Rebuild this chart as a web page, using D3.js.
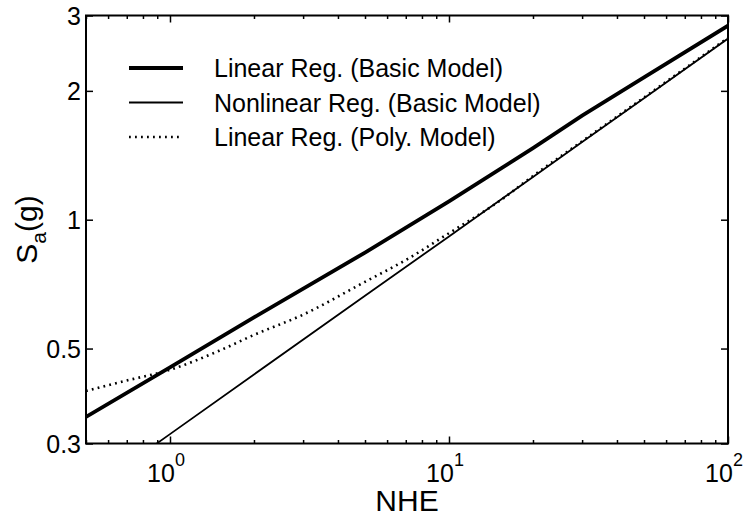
<!DOCTYPE html>
<html>
<head>
<meta charset="utf-8">
<script src="https://cdn.jsdelivr.net/npm/d3@7"></script>
<style>
  html, body { margin: 0; padding: 0; background: #fff; }
  svg { display: block; font-family: "Liberation Sans", Arial, Helvetica, sans-serif; }
</style>
</head>
<body>
<svg id="chart" width="747" height="519"></svg>
<script>
// Spectral acceleration Sa (g) versus number of hazard exceedances (NHE)
const nhe = [0.5, 1, 2, 5, 10, 20, 30, 50, 100];
const linearBasic = [0.346, 0.452, 0.591, 0.838, 1.104, 1.47, 1.75, 2.15, 2.84];
const nonlinearBasic = [0.229, 0.3155, 0.435, 0.664, 0.914, 1.259, 1.519, 1.923, 2.65];

const nhePoly = [0.5, 0.7, 1, 1.5, 2, 3, 5, 7, 10, 15, 20, 30, 50, 100];
const linearPoly = [0.398, 0.421, 0.446, 0.494, 0.538, 0.600, 0.716, 0.805, 0.93, 1.10, 1.265, 1.525, 1.93, 2.66];

const seriesNames = ["Linear Reg. (Basic Model)", "Nonlinear Reg. (Basic Model)", "Linear Reg. (Poly. Model)"];

const yTicks = [0.3, 0.5, 1, 2, 3];
const yTickLabels = ["0.3", "0.5", "1", "2", "3"];
const xMajorTicks = [1, 10, 100];
const xTickExponents = ["0", "1", "2"];
const xMinorTicks = [0.5, 0.6, 0.7, 0.8, 0.9, 2, 3, 4, 5, 6, 7, 8, 9, 20, 30, 40, 50, 60, 70, 80, 90];

const svg = d3.select("#chart");
const plotLeft = 86, plotRight = 728, plotTop = 15.5, plotBottom = 443.5;

const x = d3.scaleLog().domain([0.5, 100]).range([plotLeft, plotRight]);
const y = d3.scaleLog().domain([0.3, 3]).range([plotBottom, plotTop]);

svg.append("defs").append("clipPath").attr("id", "plotClip")
  .append("rect").attr("x", plotLeft).attr("y", plotTop)
  .attr("width", plotRight - plotLeft).attr("height", plotBottom - plotTop);

// ticks (pointing inward, on all four sides)
function styleAxis(g) {
  g.select(".domain").remove();
  g.selectAll(".tick line").attr("stroke", "#000").attr("stroke-width", 1.5);
  g.selectAll(".tick text").remove();
}
svg.append("g").attr("transform", `translate(0,${plotBottom})`)
  .call(d3.axisBottom(x).tickValues(xMajorTicks).tickSize(-7)).call(styleAxis);
svg.append("g").attr("transform", `translate(0,${plotBottom})`)
  .call(d3.axisBottom(x).tickValues(xMinorTicks).tickSize(-3.5)).call(styleAxis);
svg.append("g").attr("transform", `translate(0,${plotTop})`)
  .call(d3.axisTop(x).tickValues(xMajorTicks).tickSize(-7)).call(styleAxis);
svg.append("g").attr("transform", `translate(0,${plotTop})`)
  .call(d3.axisTop(x).tickValues(xMinorTicks).tickSize(-3.5)).call(styleAxis);
svg.append("g").attr("transform", `translate(${plotLeft},0)`)
  .call(d3.axisLeft(y).tickValues(yTicks).tickSize(-7)).call(styleAxis);
svg.append("g").attr("transform", `translate(${plotRight},0)`)
  .call(d3.axisRight(y).tickValues(yTicks).tickSize(-7)).call(styleAxis);

// y tick labels
svg.append("g").selectAll("text").data(yTicks).join("text")
  .attr("x", plotLeft - 5).attr("y", d => y(d)).attr("dy", "0.36em")
  .attr("text-anchor", "end").attr("font-size", 25).text((d, i) => yTickLabels[i]);

// x tick labels as powers of ten
const xl = svg.append("g").selectAll("text").data(xMajorTicks).join("text")
  .attr("x", d => x(d) - 4).attr("y", plotBottom + 38)
  .attr("text-anchor", "middle").attr("font-size", 25);
xl.append("tspan").text("10");
xl.append("tspan").attr("dy", -16).attr("font-size", 18).text((d, i) => xTickExponents[i]);

// axis titles
svg.append("text").attr("x", (plotLeft + plotRight) / 2).attr("y", 511)
  .attr("text-anchor", "middle").attr("font-size", 30).text("NHE");
const yt = svg.append("text").attr("transform", `translate(37,${(plotTop + plotBottom) / 2}) rotate(-90)`)
  .attr("text-anchor", "middle").attr("font-size", 30);
yt.append("tspan").text("S");
yt.append("tspan").attr("dy", 9).attr("font-size", 21).text("a");
yt.append("tspan").attr("dy", -9).text("(g)");

// curves
const plot = svg.append("g").attr("clip-path", "url(#plotClip)");
const lineGen = d3.line().x(d => x(d[0])).y(d => y(d[1]));
const smoothGen = d3.line().x(d => x(d[0])).y(d => y(d[1])).curve(d3.curveMonotoneX);

plot.append("path").datum(nhe.map((v, i) => [v, nonlinearBasic[i]]))
  .attr("d", lineGen).attr("fill", "none").attr("stroke", "#000").attr("stroke-width", 1.8);
plot.append("path").datum(nhePoly.map((v, i) => [v, linearPoly[i]]))
  .attr("d", smoothGen).attr("fill", "none").attr("stroke", "#000")
  .attr("stroke-width", 2.6).attr("stroke-dasharray", "1.8,4.2");
plot.append("path").datum(nhe.map((v, i) => [v, linearBasic[i]]))
  .attr("d", lineGen).attr("fill", "none").attr("stroke", "#000").attr("stroke-width", 3.8);

// frame
svg.append("rect").attr("x", plotLeft).attr("y", plotTop)
  .attr("width", plotRight - plotLeft).attr("height", plotBottom - plotTop)
  .attr("fill", "none").attr("stroke", "#000").attr("stroke-width", 2);

// legend
const legendStyles = [
  { w: 3.8, dash: null },
  { w: 1.8, dash: null },
  { w: 2.6, dash: "1.8,4.2" }
];
const legend = svg.append("g");
seriesNames.forEach((name, i) => {
  const cy = 68 + i * 34.5;
  legend.append("line").attr("x1", 129).attr("x2", 183).attr("y1", cy).attr("y2", cy)
    .attr("stroke", "#000").attr("stroke-width", legendStyles[i].w)
    .attr("stroke-dasharray", legendStyles[i].dash);
  legend.append("text").attr("x", 214).attr("y", cy).attr("dy", "0.36em")
    .attr("font-size", 25).text(name);
});
</script>
</body>
</html>
